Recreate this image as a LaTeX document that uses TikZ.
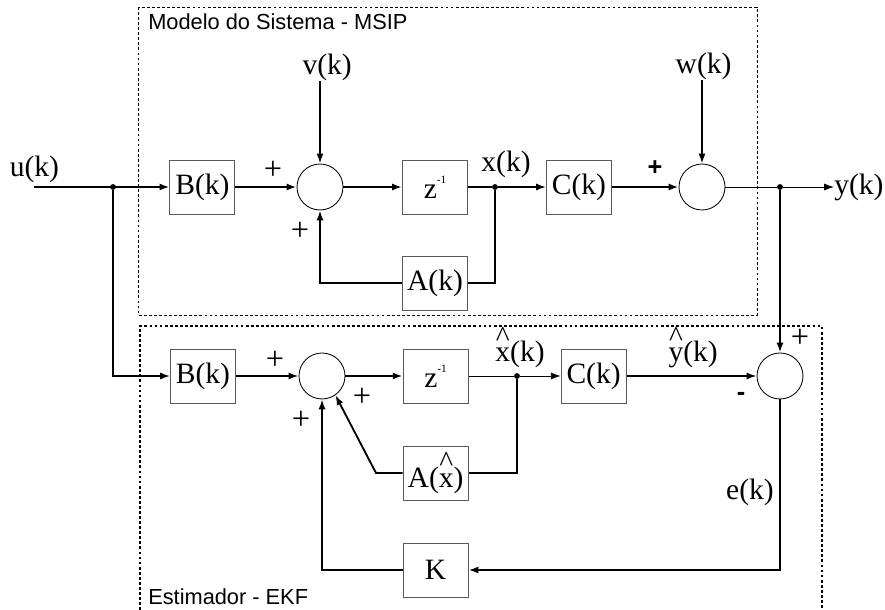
\documentclass[tikz,border=0pt]{standalone}
\usepackage{fontspec}
\setmainfont{Liberation Serif}
\newfontfamily\titlefont{Liberation Sans}
\usetikzlibrary{arrows.meta}

\newcommand{\hatlet}[1]{\leavevmode\vbox{\offinterlineskip\halign{\hfil##\hfil\cr\textasciicircum\cr\noalign{\kern0.06em}#1\cr}}}
\newcommand{\zinv}{z\raisebox{0.5em}{\fontsize{8}{8}\selectfont -1}}

\tikzset{
  blk/.style={draw=black!65,line width=0.6pt,minimum width=1.625cm,minimum height=1.35cm,inner sep=0pt,font=\fontsize{21}{24}\selectfont},
  sumnode/.style={draw,circle,line width=0.6pt,minimum size=1.15cm,inner sep=0pt},
  lbl/.style={font=\fontsize{21}{24}\selectfont,inner sep=0pt},
  sgn/.style={font=\fontsize{23}{24}\selectfont,inner sep=0pt},
  bsgn/.style={font=\titlefont\bfseries\fontsize{18}{20}\selectfont,inner sep=0pt},
  ttl/.style={font=\titlefont\fontsize{15.5}{18}\selectfont,inner sep=0pt,anchor=west},
  wire/.style={line width=1.3pt},
  fat/.style={line width=2pt},
  slim/.style={line width=0.6pt},
  arr/.style={-{Latex[length=7pt,width=5pt]}},
  jdot/.style={circle,fill,inner sep=0pt,minimum size=4.2pt},
  frame/.style={dash pattern=on 2pt off 1.6pt,line width=0.6pt}
}

\begin{document}
\begin{tikzpicture}
\useasboundingbox (0,0) rectangle (22.125,-15.25);
\draw[frame] (3.45,-0.175) rectangle (18.925,-7.875);
\draw[frame,line width=1.1pt] (3.5,-15.25) -- (3.5,-8.15) -- (20.55,-8.15) -- (20.55,-15.25);
\node[ttl] (tmod) at (3.7,-0.55) {Modelo do Sistema - MSIP};
\node[ttl] (test) at (3.7,-14.925) {Estimador - EKF};

\node[lbl] (U) at (0.86,-4.24) {u(k)};
\coordinate (Uin) at (0.85,-4.675);
\node[jdot] (J0) at (2.825,-4.675) {};
\node[blk] (B1) at (5.06,-4.675) {B(k)};
\node[sumnode] (S1) at (8.0,-4.675) {};
\node[blk] (Z1) at (10.875,-4.675) {\zinv};
\node[jdot] (J1) at (12.375,-4.675) {};
\node[blk] (C1) at (14.475,-4.675) {C(k)};
\node[sumnode] (S2) at (17.55,-4.675) {};
\node[jdot] (J2) at (19.5,-4.675) {};
\node[lbl,anchor=west] (Y) at (20.85,-4.675) {y(k)};
\node[blk] (A1) at (10.875,-7.075) {A(k)};
\node[lbl] (V) at (8.18,-1.69) {v(k)};
\node[lbl] (W) at (17.59,-1.66) {w(k)};
\node[lbl,anchor=base] (X) at (12.65,-4.3) {x(k)};

\node[blk] (B2) at (5.075,-9.4) {B(k)};
\node[sumnode] (S3) at (8.05,-9.4) {};
\node[blk] (Z2) at (10.89,-9.4) {\zinv};
\node[jdot] (J3) at (12.925,-9.4) {};
\node[blk] (C2) at (14.84,-9.4) {C(k)};
\node[sumnode] (S4) at (19.5,-9.4) {};
\node[blk] (A2) at (10.89,-11.825) {A(\hatlet{x})};
\coordinate (Ak) at (9.4,-11.825);
\node[blk] (K) at (10.89,-14.25) {K};
\node[lbl,anchor=base] (XH) at (13.0,-9.05) {\hatlet{x}(k)};
\node[lbl,anchor=base] (YH) at (17.33,-9.05) {\hatlet{y}(k)};
\node[lbl] (E) at (18.75,-12.31) {e(k)};

\node[sgn] (p1) at (6.825,-4.25) {+};
\node[sgn] (p2) at (7.5,-5.775) {+};
\node[bsgn] (p3) at (16.375,-4.2) {+};
\node[sgn] (p4) at (6.875,-9.0) {+};
\node[sgn] (p5) at (9.05,-9.925) {+};
\node[sgn] (p6) at (7.525,-10.5) {+};
\node[sgn] (p7) at (20.0,-8.45) {+};
\node[bsgn] (m1) at (18.525,-9.9) {-};

\draw[wire,arr] (Uin) -- (B1);
\draw[fat,arr] (B1) -- (S1);
\draw[fat,arr] (S1) -- (Z1);
\draw[wire] (Z1) -- (J1);
\draw[wire,arr] (J1) -- (C1);
\draw[fat,arr] (C1) -- (S2);
\draw[slim] (S2) -- (J2);
\draw[slim,arr] (J2) -- (Y);
\draw[wire,arr] (V.south -| S1) -- (S1);
\draw[wire,arr] (W.south -| S2) -- (S2);
\draw[wire] (J1) |- (A1);
\draw[wire,arr] (A1) -| (S1);
\draw[wire,arr] (J0) |- (B2);
\draw[fat,arr] (J2) -- (S4);

\draw[wire,arr] (B2) -- (S3);
\draw[wire,arr] (S3) -- (Z2);
\draw[slim] (Z2) -- (J3);
\draw[slim,arr] (J3) -- (C2);
\draw[wire,arr] (C2) -- (S4);
\draw[wire] (J3) |- (A2);
\draw[wire,arr] (A2) -- (Ak) -- (S3.-55);
\draw[wire,arr] (S4) |- (K);
\draw[wire,arr] (K) -| (S3);
\end{tikzpicture}
\end{document}
